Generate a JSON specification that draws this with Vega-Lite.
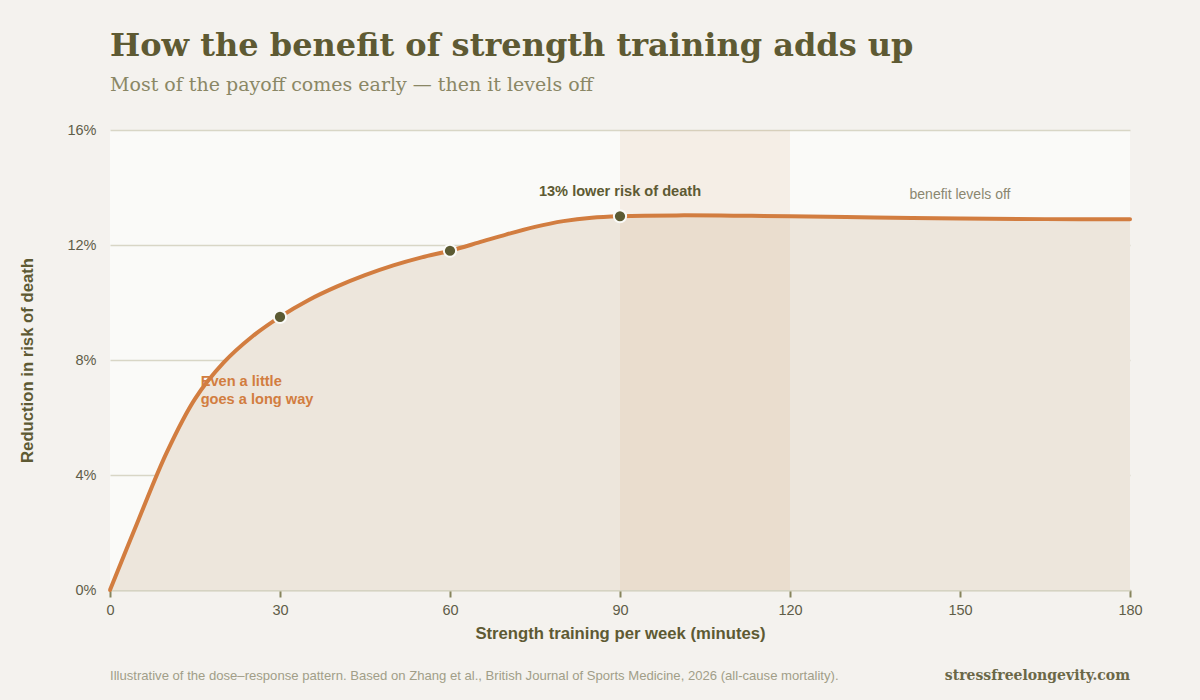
{
  "$schema": "https://vega.github.io/schema/vega-lite/v6.json",
  "autosize": "none",
  "width": 1020,
  "height": 460,
  "padding": {"left": 110, "top": 130, "right": 70, "bottom": 110},
  "background": "#f4f2ee",
  "title": {
    "text": "How the benefit of strength training adds up",
    "subtitle": "Most of the payoff comes early — then it levels off",
    "anchor": "start",
    "frame": "group",
    "offset": 26,
    "font": "DejaVu Serif",
    "fontSize": 32,
    "fontWeight": "bold",
    "color": "#5e5a33",
    "subtitleFont": "DejaVu Serif",
    "subtitleFontSize": 19,
    "subtitleColor": "#8a8765",
    "subtitlePadding": 13
  },
  "datasets": {
    "curve": [
      {"minutes": 0, "reduction": 0},
      {"minutes": 5, "reduction": 2.43},
      {"minutes": 10, "reduction": 4.78},
      {"minutes": 15, "reduction": 6.65},
      {"minutes": 20, "reduction": 7.9},
      {"minutes": 25, "reduction": 8.8},
      {"minutes": 30, "reduction": 9.5},
      {"minutes": 35, "reduction": 10.08},
      {"minutes": 40, "reduction": 10.55},
      {"minutes": 45, "reduction": 10.95},
      {"minutes": 50, "reduction": 11.29},
      {"minutes": 55, "reduction": 11.57},
      {"minutes": 60, "reduction": 11.8},
      {"minutes": 65, "reduction": 12.08},
      {"minutes": 70, "reduction": 12.37},
      {"minutes": 75, "reduction": 12.63},
      {"minutes": 80, "reduction": 12.83},
      {"minutes": 85, "reduction": 12.95},
      {"minutes": 90, "reduction": 13.0},
      {"minutes": 100, "reduction": 13.03},
      {"minutes": 110, "reduction": 13.02},
      {"minutes": 120, "reduction": 13.0},
      {"minutes": 135, "reduction": 12.96},
      {"minutes": 150, "reduction": 12.92},
      {"minutes": 165, "reduction": 12.9},
      {"minutes": 180, "reduction": 12.9}
    ],
    "highlights": [
      {"minutes": 30, "reduction": 9.5},
      {"minutes": 60, "reduction": 11.8},
      {"minutes": 90, "reduction": 13.0}
    ],
    "sweet_spot": [
      {"start": 90, "end": 120}
    ],
    "notes": [
      {"minutes": 16, "reduction": 7.1}
    ]
  },
  "layer": [
    {
      "data": {"name": "curve"},
      "mark": {"type": "area", "interpolate": "catmull-rom", "color": "#ede6dc"},
      "encoding": {
        "x": {
          "field": "minutes",
          "type": "quantitative",
          "scale": {"domain": [0, 180], "nice": false},
          "axis": {
            "values": [0, 30, 60, 90, 120, 150, 180],
            "title": "Strength training per week (minutes)",
            "grid": false,
            "labelFlush": false
          }
        },
        "y": {
          "field": "reduction",
          "type": "quantitative",
          "scale": {"domain": [0, 16], "nice": false},
          "axis": {
            "values": [0, 4, 8, 12, 16],
            "labelExpr": "datum.value + '%'",
            "title": "Reduction in risk of death"
          }
        }
      }
    },
    {
      "data": {"name": "sweet_spot"},
      "mark": {"type": "rect", "color": "#d9a06c", "opacity": 0.12},
      "encoding": {
        "x": {"field": "start", "type": "quantitative"},
        "x2": {"field": "end"}
      }
    },
    {
      "data": {"name": "curve"},
      "mark": {"type": "line", "interpolate": "catmull-rom", "color": "#d27d40", "strokeWidth": 4, "strokeCap": "round"},
      "encoding": {
        "x": {"field": "minutes", "type": "quantitative"},
        "y": {"field": "reduction", "type": "quantitative"}
      }
    },
    {
      "data": {"name": "highlights"},
      "mark": {"type": "point", "filled": true, "size": 150, "color": "#5b5a33", "stroke": "#fafaf8", "strokeWidth": 2, "opacity": 1},
      "encoding": {
        "x": {"field": "minutes", "type": "quantitative"},
        "y": {"field": "reduction", "type": "quantitative"}
      }
    },
    {
      "data": {"name": "highlights"},
      "transform": [{"filter": "datum.minutes == 90"}],
      "mark": {"type": "text", "font": "Liberation Sans", "fontSize": 14.6, "fontWeight": "bold", "color": "#5e5a33", "align": "center", "baseline": "alphabetic", "dy": -20},
      "encoding": {
        "x": {"field": "minutes", "type": "quantitative"},
        "y": {"field": "reduction", "type": "quantitative"},
        "text": {"value": "13% lower risk of death"}
      }
    },
    {
      "data": {"name": "notes"},
      "mark": {"type": "text", "font": "Liberation Sans", "fontSize": 14.6, "fontWeight": "bold", "color": "#d27d40", "align": "left", "baseline": "alphabetic", "lineHeight": 18.3},
      "encoding": {
        "x": {"field": "minutes", "type": "quantitative"},
        "y": {"field": "reduction", "type": "quantitative"},
        "text": {"value": ["Even a little", "goes a long way"]}
      }
    },
    {
      "data": {"values": [{"minutes": 150, "reduction": 13.6}]},
      "mark": {"type": "text", "font": "Liberation Sans", "fontSize": 14, "color": "#8a8770", "align": "center", "baseline": "alphabetic"},
      "encoding": {
        "x": {"field": "minutes", "type": "quantitative"},
        "y": {"field": "reduction", "type": "quantitative"},
        "text": {"value": "benefit levels off"}
      }
    },
    {
      "data": {"values": [{"minutes": 0, "reduction": -3.13}]},
      "mark": {"type": "text", "font": "Liberation Sans", "fontSize": 13.1, "color": "#a19e88", "align": "left", "baseline": "alphabetic"},
      "encoding": {
        "x": {"field": "minutes", "type": "quantitative"},
        "y": {"field": "reduction", "type": "quantitative"},
        "text": {"value": "Illustrative of the dose–response pattern. Based on Zhang et al., British Journal of Sports Medicine, 2026 (all-cause mortality)."}
      }
    },
    {
      "data": {"values": [{"minutes": 180, "reduction": -3.13}]},
      "mark": {"type": "text", "font": "DejaVu Serif", "fontSize": 14, "fontWeight": "bold", "color": "#6b6848", "align": "right", "baseline": "alphabetic"},
      "encoding": {
        "x": {"field": "minutes", "type": "quantitative"},
        "y": {"field": "reduction", "type": "quantitative"},
        "text": {"value": "stressfreelongevity.com"}
      }
    }
  ],
  "config": {
    "view": {"fill": "#fafaf8", "stroke": null},
    "axis": {
      "labelFont": "Liberation Sans",
      "labelFontSize": 14.5,
      "labelColor": "#5f5d48",
      "titleFont": "Liberation Sans",
      "titleFontSize": 16.7,
      "titleFontWeight": "bold",
      "titleColor": "#5e5a33"
    },
    "axisX": {
      "domainColor": "#d5d3c2",
      "domainWidth": 2,
      "tickColor": "#86845c",
      "tickWidth": 2,
      "tickSize": 7,
      "labelPadding": 6,
      "titlePadding": 9
    },
    "axisY": {
      "domain": false,
      "ticks": false,
      "grid": true,
      "gridColor": "#d8d6c6",
      "gridWidth": 1.5,
      "labelPadding": 14,
      "titlePadding": 30
    }
  }
}
